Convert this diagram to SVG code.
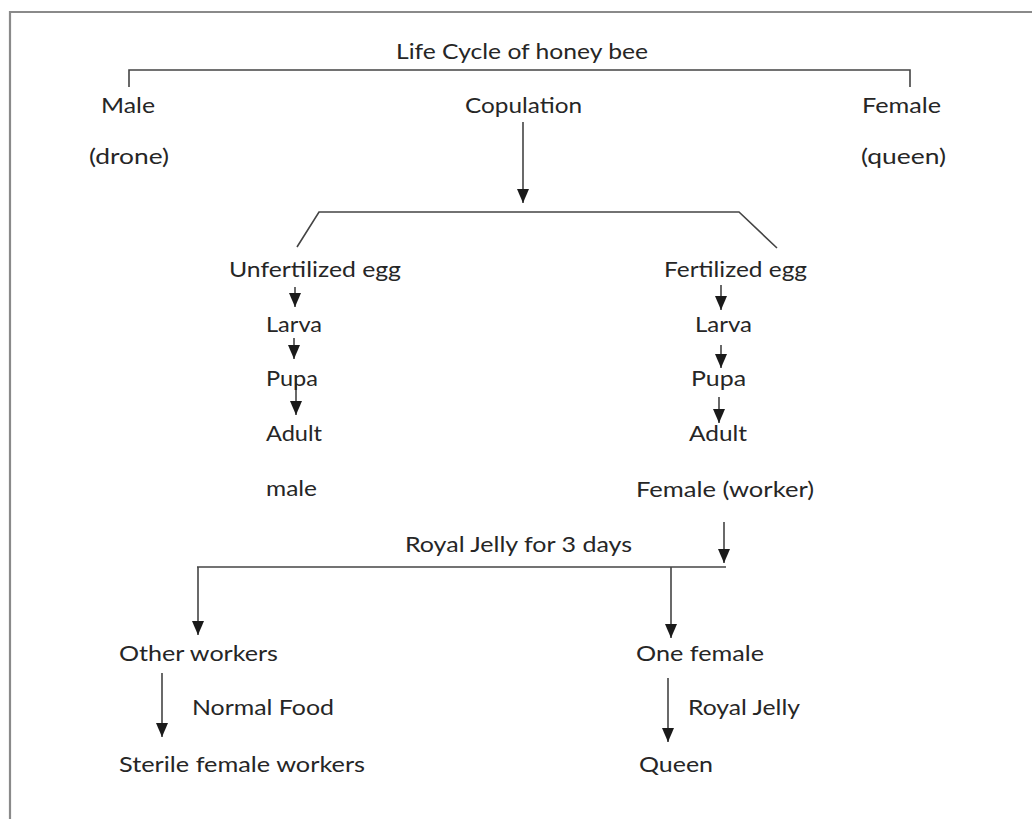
<svg xmlns="http://www.w3.org/2000/svg" width="1032" height="819" viewBox="0 0 1032 819">
<style>
text{font-family:Lato,"Open Sans","Liberation Sans",sans-serif;font-size:21.5px;fill:#262626}
.ln{fill:none;stroke:#444;stroke-width:1.6}
.ar{fill:none;stroke:#444;stroke-width:1.6;marker-end:url(#ah)}
.frame{fill:none;stroke:#8a8a8a;stroke-width:2.2}
</style>
<defs>
<marker id="ah" markerUnits="userSpaceOnUse" markerWidth="14" markerHeight="12" viewBox="0 0 14 12" refX="14" refY="6" orient="auto">
<path d="M0,0 L14,6 L0,12 Z" fill="#1a1a1a"/>
</marker>
</defs>
<rect width="1032" height="819" fill="#fff"/>
<path class="frame" d="M10,819 V12 H1032"/>
<g id="connectors">
<path class="ln" d="M129,87 V70 H910 V87"/>
<path class="ln" d="M297,247 L319,212 H739 L777,248"/>
<path class="ln" d="M197,567 H726"/>
<line class="ar" x1="523" y1="122" x2="523" y2="203"/>
<line class="ar" x1="295" y1="287" x2="295" y2="307"/>
<line class="ar" x1="294" y1="338" x2="294" y2="359"/>
<line class="ar" x1="296" y1="375" x2="296" y2="415"/>
<line class="ar" x1="721" y1="285" x2="721" y2="310"/>
<line class="ar" x1="721" y1="345" x2="721" y2="368"/>
<line class="ar" x1="719" y1="397" x2="719" y2="423"/>
<line class="ar" x1="724" y1="522" x2="724" y2="563"/>
<line class="ar" x1="198" y1="567" x2="198" y2="635"/>
<line class="ar" x1="671" y1="567" x2="671" y2="638"/>
<line class="ar" x1="162" y1="673" x2="162" y2="737"/>
<line class="ar" x1="668" y1="678" x2="668" y2="742"/>
</g>
<g id="title"><text x="396" y="59" textLength="252" lengthAdjust="spacingAndGlyphs">Life Cycle of honey bee</text></g>
<g id="male"><text x="101" y="113" textLength="54" lengthAdjust="spacingAndGlyphs">Male</text><text x="89" y="164" textLength="80" lengthAdjust="spacingAndGlyphs">(drone)</text></g>
<g id="copulation"><text x="465" y="113" textLength="117" lengthAdjust="spacingAndGlyphs">Copulation</text></g>
<g id="female"><text x="862" y="113" textLength="79" lengthAdjust="spacingAndGlyphs">Female</text><text x="861" y="164" textLength="85" lengthAdjust="spacingAndGlyphs">(queen)</text></g>
<g id="unfertilized-egg"><text x="229" y="277" textLength="172" lengthAdjust="spacingAndGlyphs">Unfertilized egg</text></g>
<g id="fertilized-egg"><text x="664" y="277" textLength="143" lengthAdjust="spacingAndGlyphs">Fertilized egg</text></g>
<g id="larva-l"><text x="266" y="332" textLength="56" lengthAdjust="spacingAndGlyphs">Larva</text></g>
<g id="pupa-l"><text x="266" y="386" textLength="52" lengthAdjust="spacingAndGlyphs">Pupa</text></g>
<g id="adult-l"><text x="266" y="441" textLength="56" lengthAdjust="spacingAndGlyphs">Adult</text></g>
<g id="male-adult"><text x="266" y="496" textLength="51" lengthAdjust="spacingAndGlyphs">male</text></g>
<g id="larva-r"><text x="695" y="332" textLength="57" lengthAdjust="spacingAndGlyphs">Larva</text></g>
<g id="pupa-r"><text x="691" y="386" textLength="55" lengthAdjust="spacingAndGlyphs">Pupa</text></g>
<g id="adult-r"><text x="689" y="441" textLength="58" lengthAdjust="spacingAndGlyphs">Adult</text></g>
<g id="female-worker"><text x="636" y="497" textLength="178" lengthAdjust="spacingAndGlyphs">Female (worker)</text></g>
<g id="royal-jelly-3"><text x="405" y="552" textLength="227" lengthAdjust="spacingAndGlyphs">Royal Jelly for 3 days</text></g>
<g id="other-workers"><text x="119" y="661" textLength="159" lengthAdjust="spacingAndGlyphs">Other workers</text></g>
<g id="normal-food"><text x="192" y="715" textLength="142" lengthAdjust="spacingAndGlyphs">Normal Food</text></g>
<g id="sterile"><text x="119" y="772" textLength="246" lengthAdjust="spacingAndGlyphs">Sterile female workers</text></g>
<g id="one-female"><text x="636" y="661" textLength="128" lengthAdjust="spacingAndGlyphs">One female</text></g>
<g id="royal-jelly"><text x="688" y="715" textLength="112" lengthAdjust="spacingAndGlyphs">Royal Jelly</text></g>
<g id="queen"><text x="639" y="772" textLength="74" lengthAdjust="spacingAndGlyphs">Queen</text></g>
</svg>
